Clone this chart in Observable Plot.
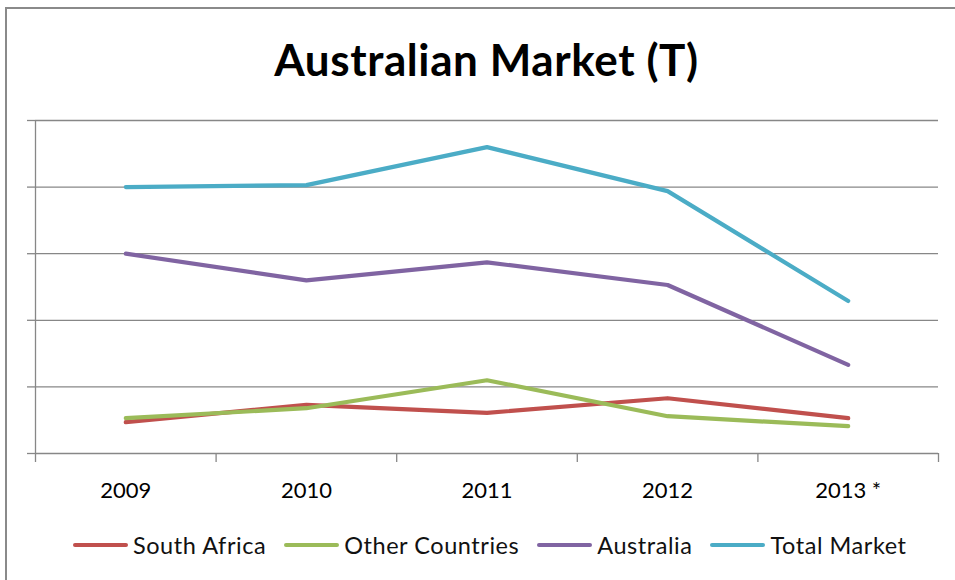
<!DOCTYPE html>
<html>
<head>
<meta charset="utf-8">
<script src="https://cdn.jsdelivr.net/npm/d3@7"></script>
<script src="https://cdn.jsdelivr.net/npm/@observablehq/plot@0.6"></script>
<style>
  html, body { margin: 0; padding: 0; background: #fff; overflow: hidden; width: 955px; height: 580px; }
  #frame { position: absolute; left: 5px; top: 7px; width: 1000px; height: 700px; border: 2px solid #8a8a8a; box-sizing: border-box; pointer-events: none; }
  #title { height: 100px; box-sizing: border-box; padding-left: 18px; text-align: center; font-family: Lato, sans-serif; font-weight: bold; font-size: 44px; line-height: 44px; padding-top: 37px; letter-spacing: 0.6px; color: #000; }
  #chart svg { display: block; }
  #legend { position: absolute; left: 73px; top: 531px; display: flex; align-items: center; font-family: Lato, sans-serif; font-size: 23.5px; letter-spacing: 0.55px; color: #111; }
  .item { display: flex; align-items: center; margin-right: 18px; }
  .sw { width: 55px; height: 4.5px; border-radius: 2px; margin-right: 5px; }
</style>
</head>
<body>
<div id="frame"></div>
<div id="title">Australian Market (T)</div>
<div id="chart"></div>
<div id="legend"></div>
<script>
const years = ["2009", "2010", "2011", "2012", "2013 *"];
const seriesNames = ["South Africa", "Other Countries", "Australia", "Total Market"];
const seriesColors = ["#C0504D", "#9BBB59", "#8064A2", "#4BACC6"];
const southAfrica = [4.7, 7.3, 6.1, 8.3, 5.3];
const otherCountries = [5.3, 6.8, 11.0, 5.6, 4.1];
const australia = [30.0, 26.0, 28.7, 25.3, 13.3];
const totalMarket = [40.0, 40.3, 46.0, 39.4, 22.9];
const yTicks = [0, 10, 20, 30, 40, 50];

const seriesValues = [southAfrica, otherCountries, australia, totalMarket];
const data = [];
seriesNames.forEach((name, s) => {
  years.forEach((yr, i) => data.push({series: name, i, year: yr, value: seriesValues[s][i]}));
});
const idx = years.map((_, i) => i);
const bounds = years.map((_, i) => i - 0.5).concat([years.length - 0.5]);

const plot = Plot.plot({
  width: 955,
  height: 415,
  marginLeft: 35,
  marginRight: 17,
  marginTop: 20,
  marginBottom: 62,
  x: {type: "linear", domain: [-0.5, years.length - 0.5]},
  y: {domain: [0, 50]},
  color: {domain: seriesNames, range: seriesColors},
  style: {fontFamily: "Lato, sans-serif", fontSize: "22px", color: "#000", background: "transparent"},
  marks: [
    Plot.ruleY(yTicks.slice(1), {stroke: "#878787", strokeWidth: 1.3, strokeOpacity: 1}),
    Plot.axisY({ticks: yTicks, tickSize: 8, tickFormat: () => "", stroke: "#878787", strokeOpacity: 1, strokeWidth: 1.3, label: null}),
    Plot.ruleX([-0.5], {stroke: "#878787", strokeWidth: 1.3}),
    Plot.ruleY([0], {stroke: "#878787", strokeWidth: 1.3}),
    Plot.axisX({ticks: bounds, tickSize: 9, tickFormat: () => "", stroke: "#878787", strokeOpacity: 1, strokeWidth: 1.3, label: null}),
    Plot.axisX({ticks: idx, tickSize: 0, tickPadding: 29, tickFormat: i => years[i], fill: "#000", fontSize: 22, label: null}),
    Plot.line(data, {x: "i", y: "value", z: "series", stroke: "series", strokeWidth: 4.2, strokeLinejoin: "round", strokeLinecap: "round"})
  ]
});
document.getElementById("chart").appendChild(plot);

const legend = document.getElementById("legend");
seriesNames.forEach((name, s) => {
  const it = document.createElement("div");
  it.className = "item";
  const sw = document.createElement("div");
  sw.className = "sw";
  sw.style.background = seriesColors[s];
  const tx = document.createElement("span");
  tx.textContent = name;
  it.appendChild(sw); it.appendChild(tx);
  legend.appendChild(it);
});
</script>
</body>
</html>
